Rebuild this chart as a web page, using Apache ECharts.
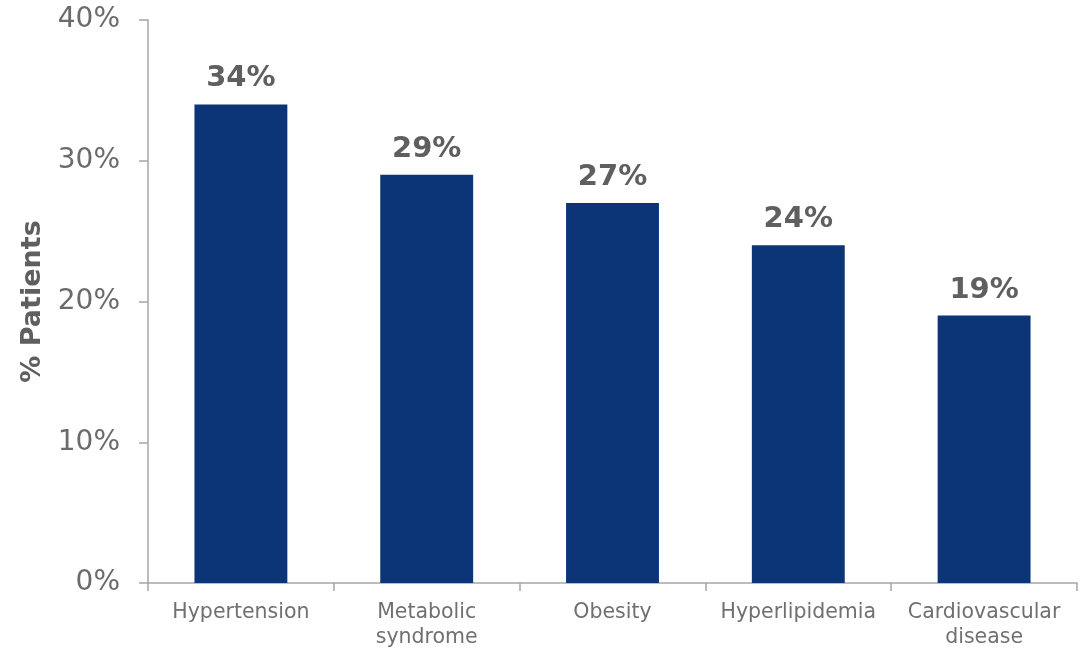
<!DOCTYPE html>
<html><head><meta charset="utf-8">
<script src="https://cdn.jsdelivr.net/npm/echarts@6/dist/echarts.min.js"></script>
<style>html,body{margin:0;padding:0;background:#fff}#c{width:1086px;height:651px}</style>
</head><body><div id="c"></div>
<script>
const categories = ['Hypertension', 'Metabolic\nsyndrome', 'Obesity', 'Hyperlipidemia', 'Cardiovascular\ndisease'];
const values = [34, 29, 27, 24, 19];
const yTicks = [0, 10, 20, 30, 40];
const FONT = 'DejaVu Sans';

const chart = echarts.init(document.getElementById('c'));
chart.setOption({
  animation: false,
  textStyle: {fontFamily: FONT},
  grid: {left: 148, right: 9, top: 20, bottom: 68},
  xAxis: {
    type: 'category', data: categories,
    axisLine: {lineStyle: {color: '#a6a6a6', width: 1.5}},
    axisTick: {show: true, length: 8, alignWithLabel: false, lineStyle: {color: '#a6a6a6', width: 1.5}},
    axisLabel: {color: '#707070', fontFamily: FONT, fontSize: 20.5, margin: 17, lineHeight: 25, interval: 0}
  },
  yAxis: {
    type: 'value', min: 0, max: 40, interval: 10,
    name: '% Patients', nameLocation: 'middle', nameGap: 94,
    nameTextStyle: {color: '#5f5f5f', fontFamily: FONT, fontSize: 27, fontWeight: 'bold'},
    splitLine: {show: false},
    axisLine: {show: true, lineStyle: {color: '#a6a6a6', width: 1.5}},
    axisTick: {show: true, length: 9, lineStyle: {color: '#a6a6a6', width: 1.5}},
    axisLabel: {color: '#6b6b6b', fontFamily: FONT, fontSize: 28, margin: 28, formatter: v => yTicks.includes(v) ? v + '%' : ''}
  },
  series: [{
    type: 'bar', data: values, barWidth: '50%',
    itemStyle: {color: '#0b3577'},
    label: {show: true, position: 'top', distance: 11, formatter: p => p.value + '%',
      color: '#5f5f5f', fontFamily: FONT, fontSize: 29, fontWeight: 'bold'}
  }]
});
</script></body></html>
